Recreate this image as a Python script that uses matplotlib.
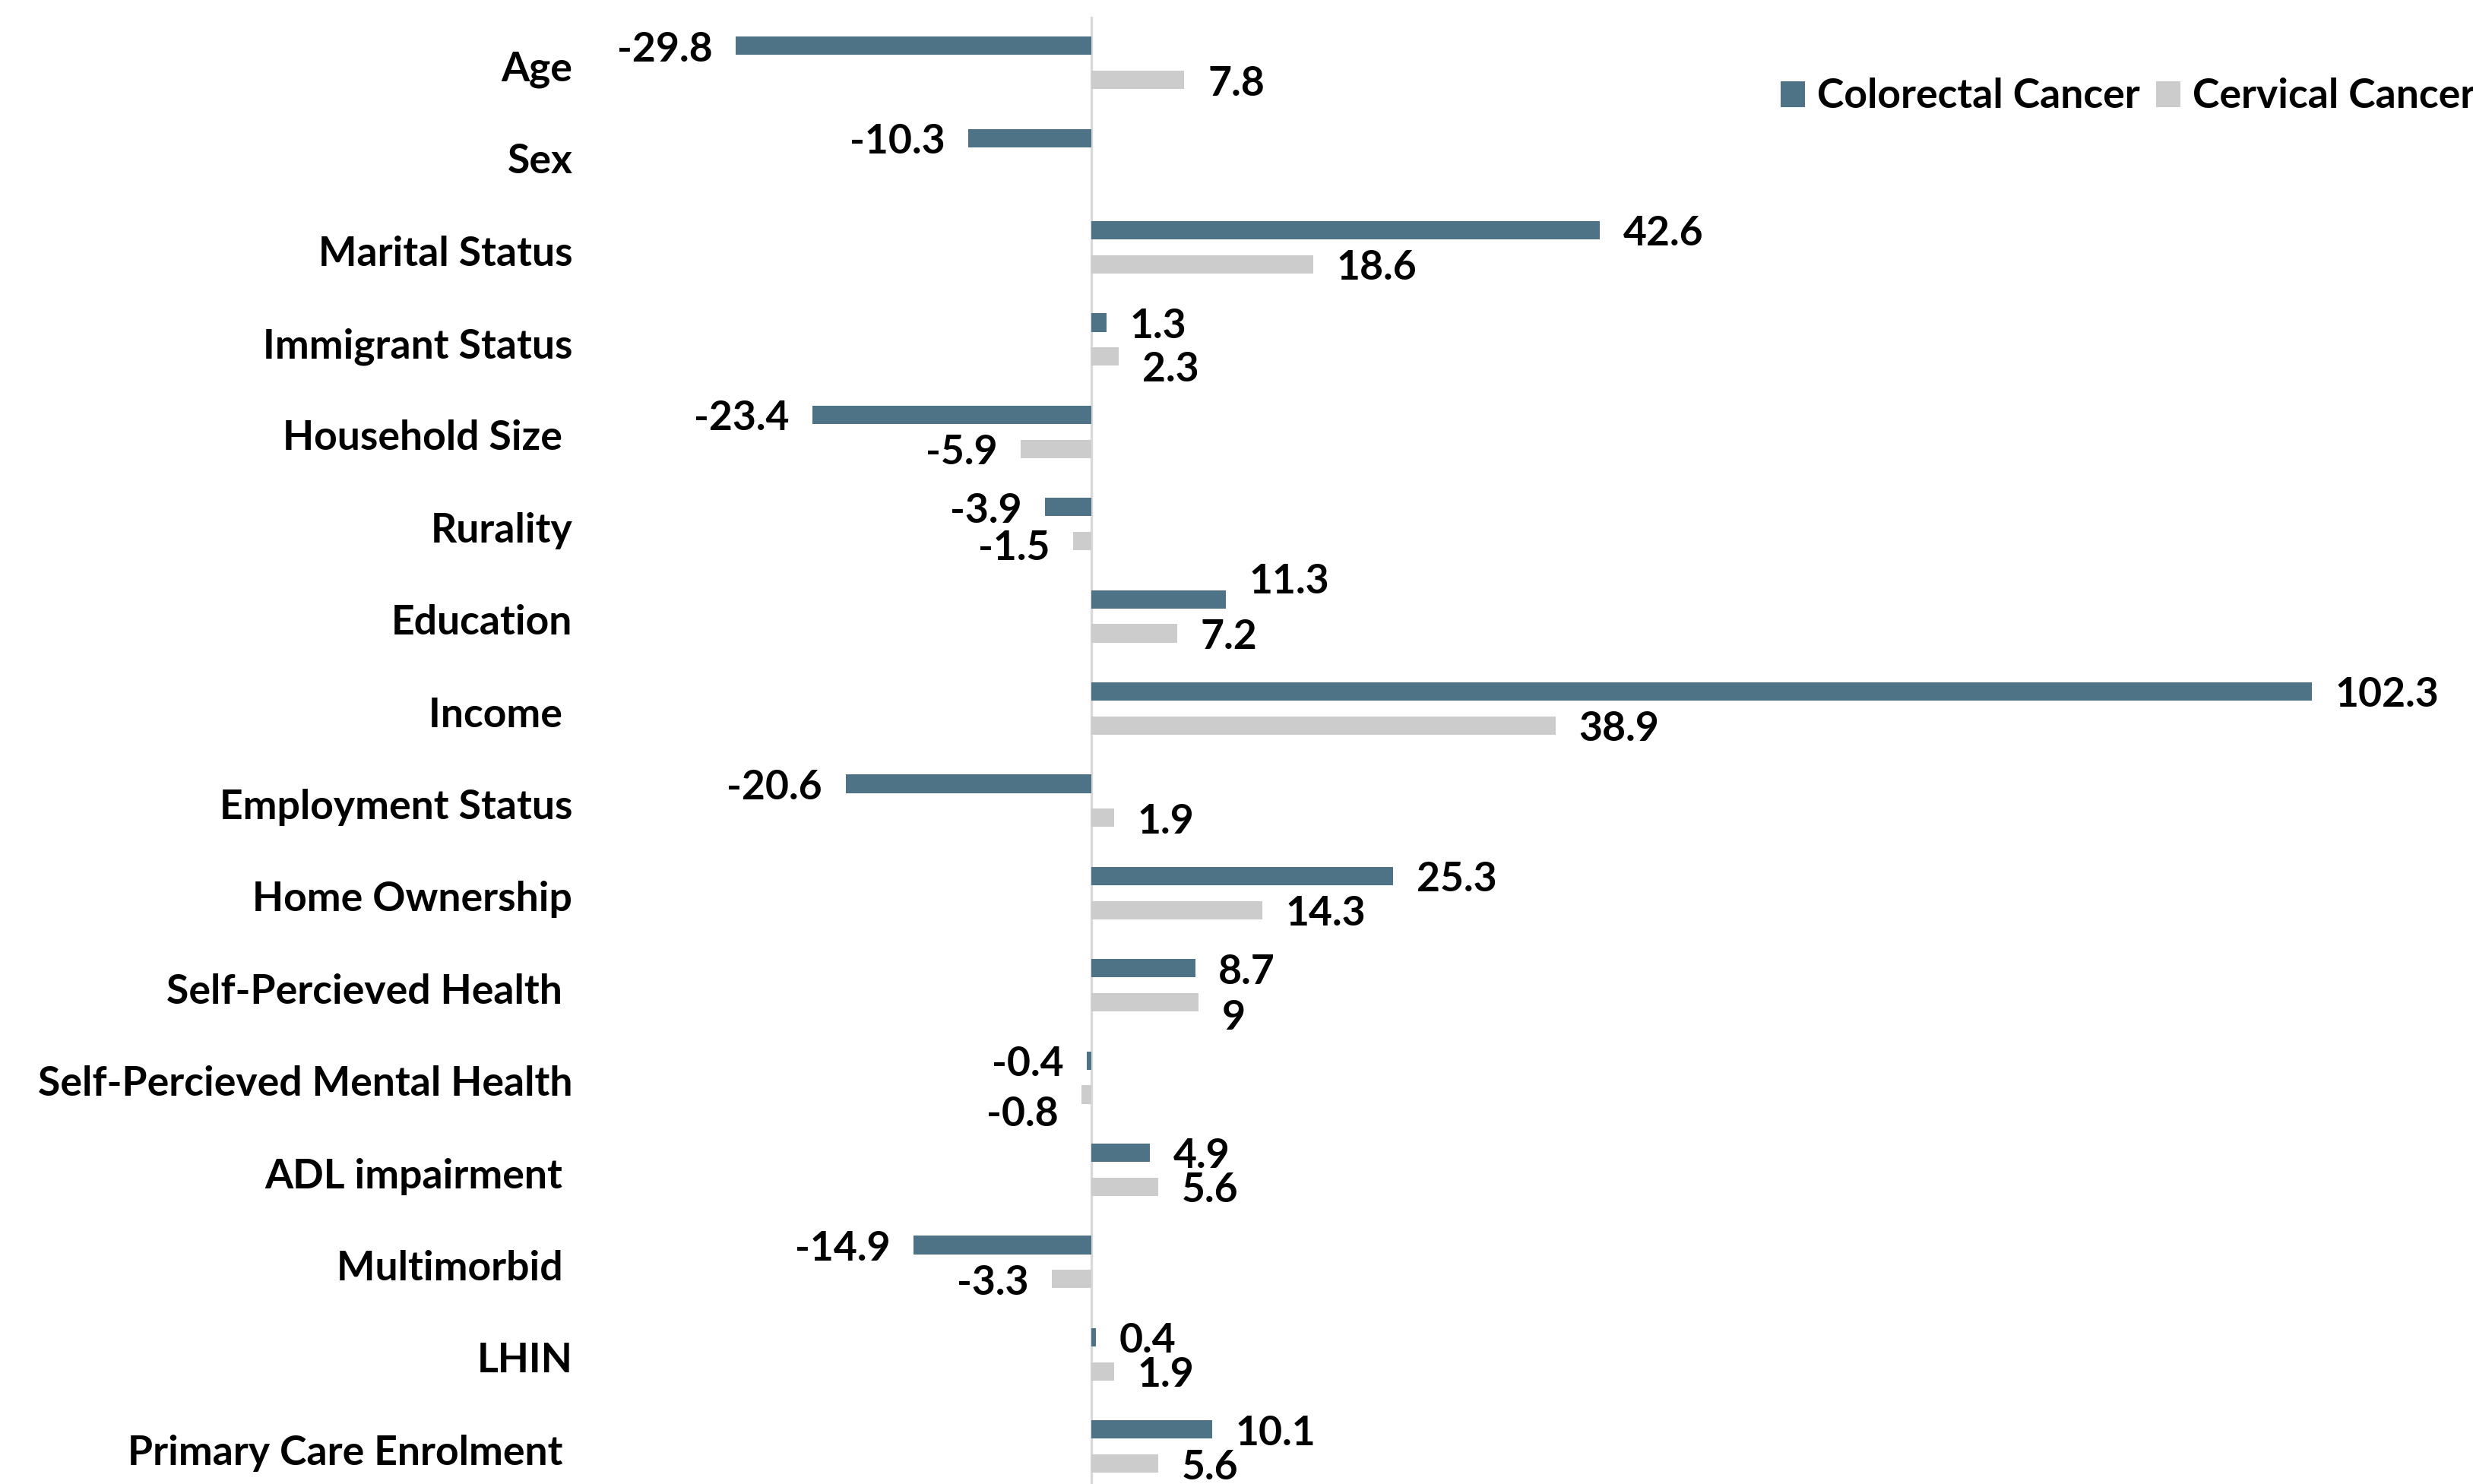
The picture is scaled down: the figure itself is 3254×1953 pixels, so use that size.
import matplotlib
matplotlib.use("Agg")
import matplotlib.pyplot as plt
import matplotlib.transforms as mtransforms
import numpy as np

categories = ["Age", "Sex", "Marital Status", "Immigrant Status", "Household Size ",
              "Rurality", "Education", "Income ", "Employment Status", "Home Ownership",
              "Self-Percieved Health ", "Self-Percieved Mental Health", "ADL impairment ",
              "Multimorbid ", "LHIN", "Primary Care Enrolment "]
colorectal = [-29.8, -10.3, 42.6, 1.3, -23.4, -3.9, 11.3, 102.3, -20.6, 25.3, 8.7, -0.4, 4.9, -14.9, 0.4, 10.1]
cervical = [7.8, None, 18.6, 2.3, -5.9, -1.5, 7.2, 38.9, 1.9, 14.3, 9, -0.8, 5.6, -3.3, 1.9, 5.6]
series_names = ["Colorectal Cancer", "Cervical Cancer"]

C1 = "#4F7386"
C2 = "#CCCCCC"
FONT = "Lato"
FS = 38.5

# label placement nudges (points), as in the original chart's layout
nudge = {(0, 6): 17, (1, 3): -12, (1, 10): -15, (1, 11): -19, (1, 5): -7}
BASE_DY = -3.5

plt.rcParams['font.family'] = [FONT, 'DejaVu Sans']
plt.rcParams['font.weight'] = 'bold'

W, H = 3254, 1953
fig = plt.figure(figsize=(W / 100, H / 100), dpi=100)

zero_px = 1436
scale = 15.7
L, R = 770, 3200
top_px = 22
pitch = 121.4
n = len(categories)
bottom_px = top_px + n * pitch
ax = fig.add_axes([L / W, (H - bottom_px) / H, (R - L) / W, (bottom_px - top_px) / H])
ax.set_xlim(-(zero_px - L) / scale, (R - zero_px) / scale)
ax.set_ylim(n - 0.5, -0.5)

y = np.arange(n)
off = 0.185
bh = 0.2
c1 = np.array(colorectal, dtype=float)
c2 = np.array([np.nan if v is None else v for v in cervical], dtype=float)
b1 = ax.barh(y - off, c1, height=bh, color=C1, label=series_names[0], zorder=2)
b2 = ax.barh(y + off, np.nan_to_num(c2), height=bh, color=C2, label=series_names[1], zorder=2)
ax.axvline(0, color="#D9D9D9", lw=2.4, zorder=1)

for si, (ys, vals) in enumerate([(y - off, c1), (y + off, c2)]):
    for i, (yy, v) in enumerate(zip(ys, vals)):
        if np.isnan(v):
            continue
        dy = nudge.get((si, i), BASE_DY)
        ax.annotate(f"{v:g}", (v, yy), xytext=(22 if v >= 0 else -22, dy), textcoords="offset points",
                    ha="left" if v >= 0 else "right", va="center", fontsize=FS, fontweight="bold")

ax.set_yticks(y)
ax.set_yticklabels(categories, fontsize=FS, fontweight="bold")
ax.tick_params(axis="y", length=0, pad=12)
shift = mtransforms.ScaledTranslation(0, -3 / 72, fig.dpi_scale_trans)
for lab in ax.get_yticklabels():
    lab.set_transform(lab.get_transform() + shift)
ax.set_xticks([])
for s in ax.spines.values():
    s.set_visible(False)

fig.legend(handles=[b1, b2], labels=series_names, loc="center left",
           bbox_to_anchor=(2343 / W, 1 - 127 / H), ncol=2, frameon=False,
           fontsize=FS, handlelength=0.6, handleheight=0.6, handletextpad=0.3,
           columnspacing=0.4, borderpad=0, borderaxespad=0)

fig.savefig("out.png", dpi=100)
